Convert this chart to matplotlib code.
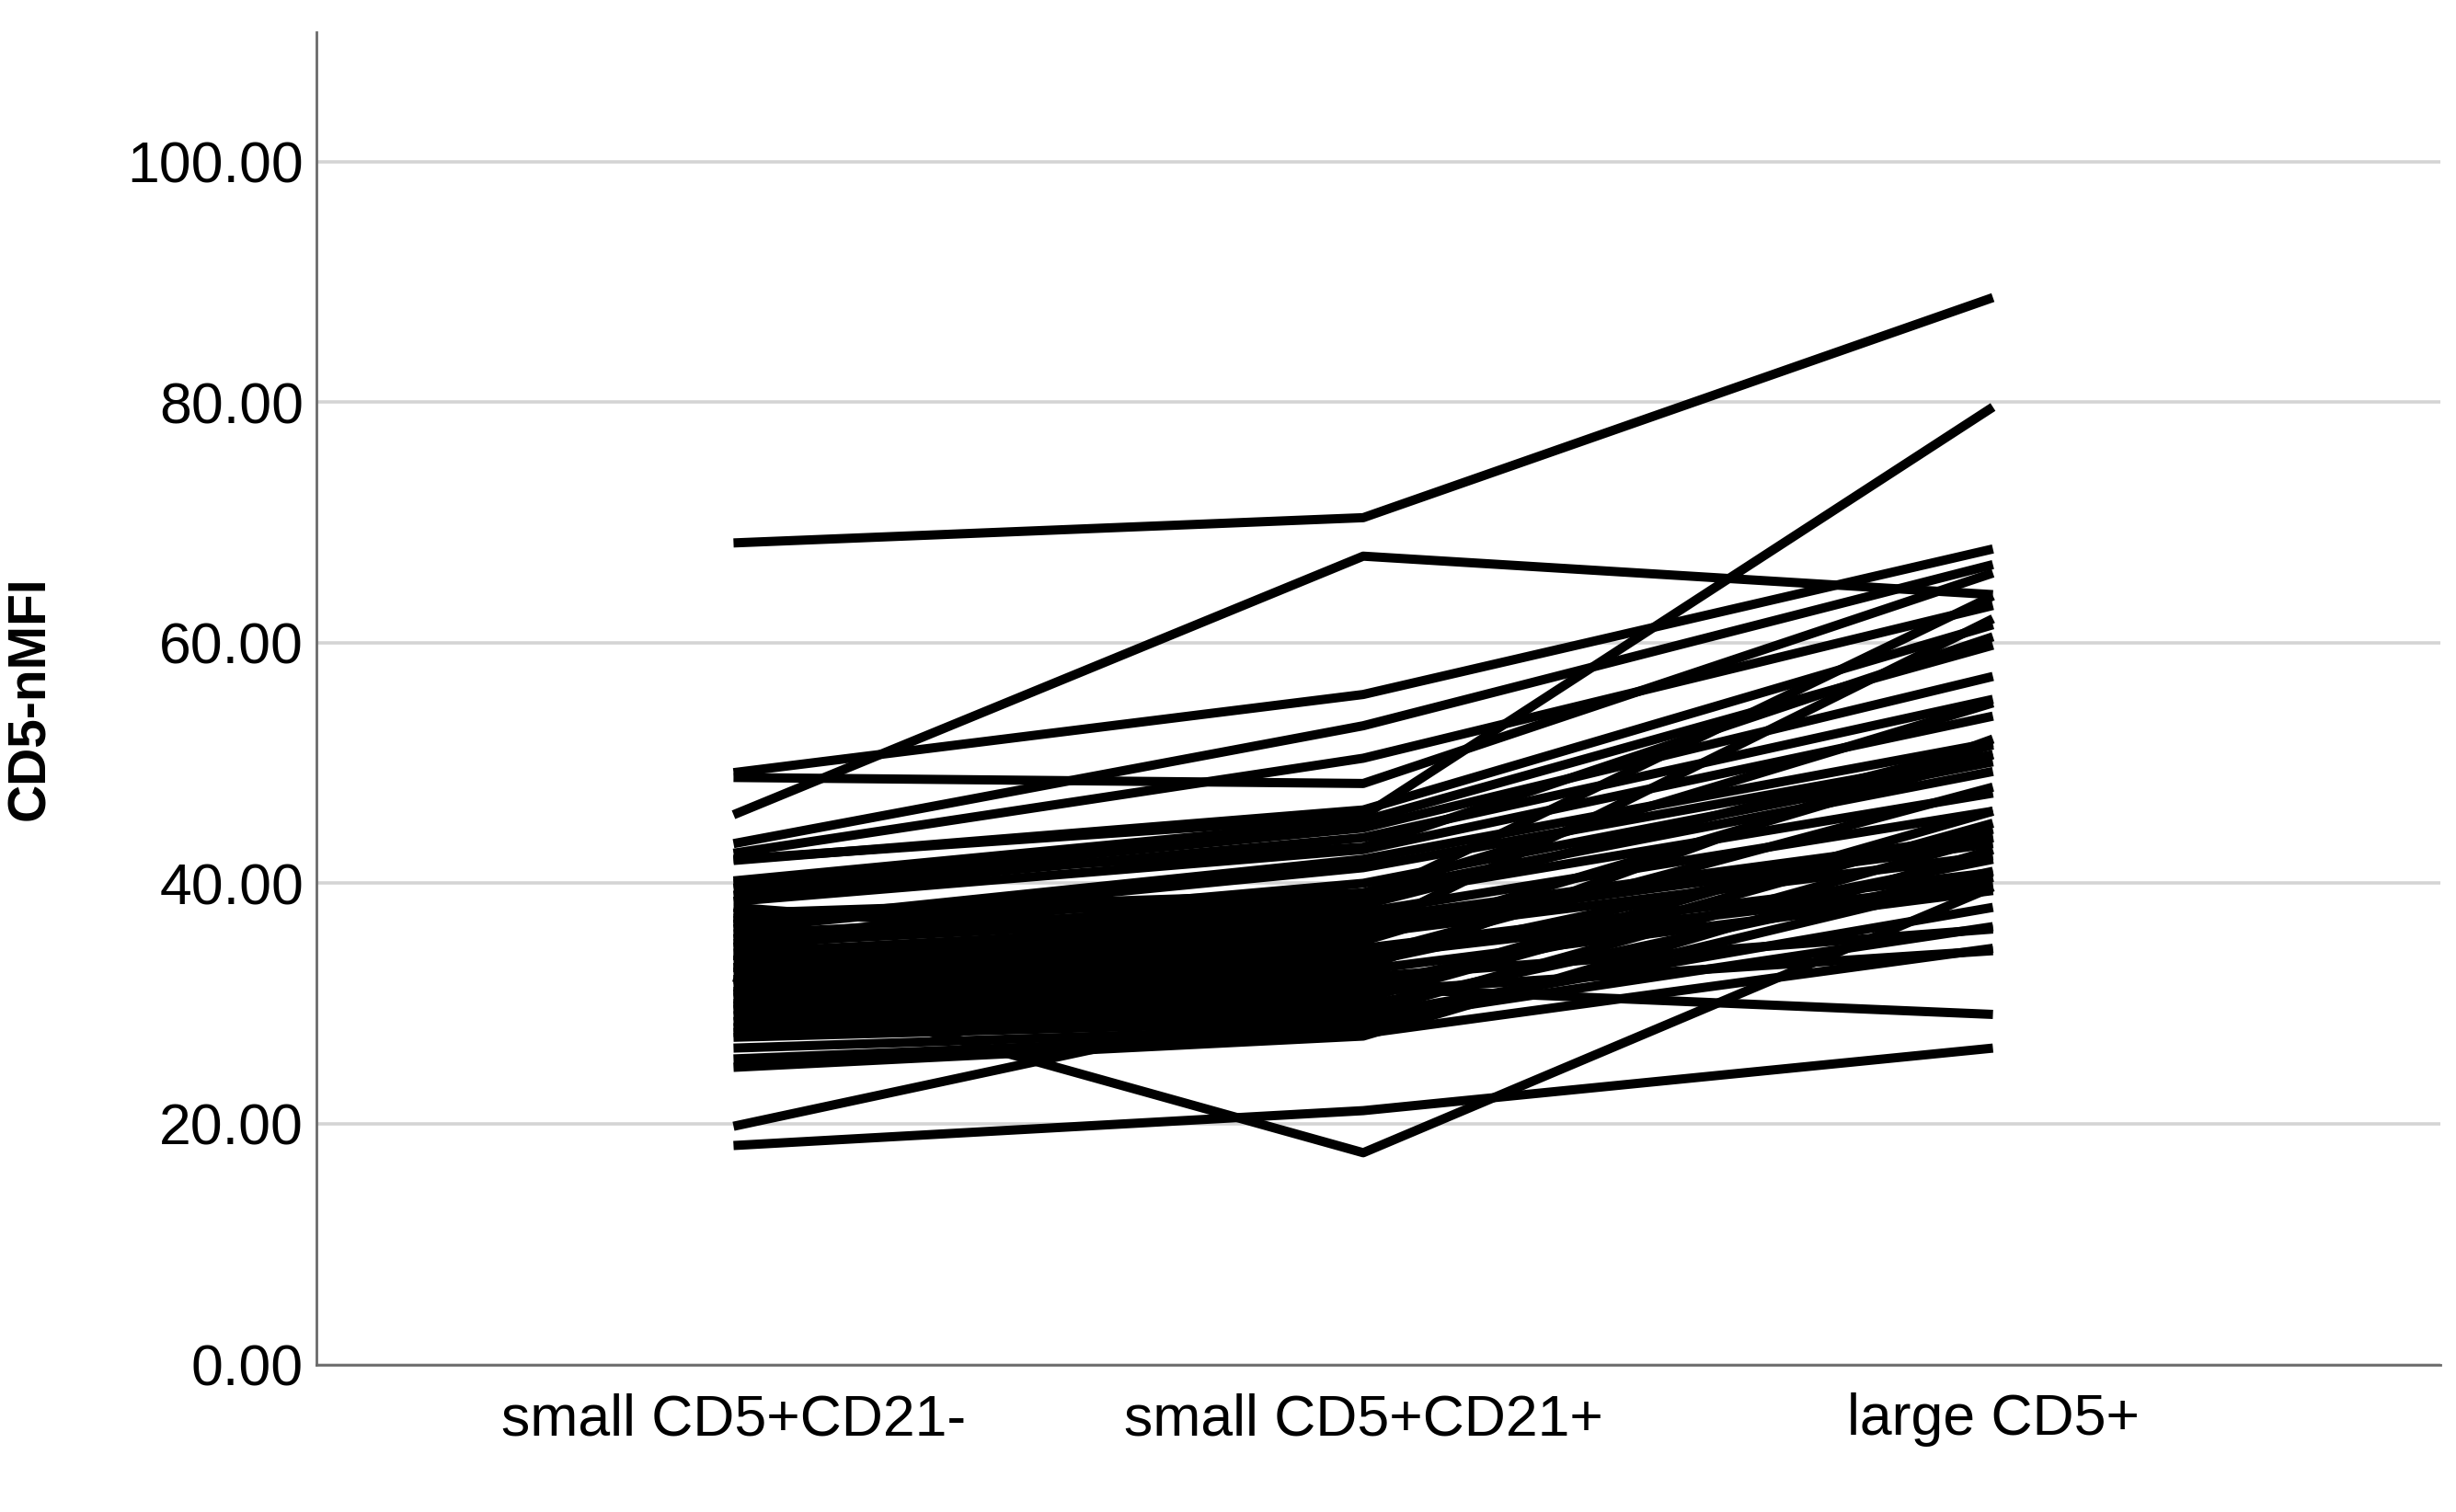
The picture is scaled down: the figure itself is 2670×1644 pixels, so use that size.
import numpy as np
import matplotlib.pyplot as plt

plt.rcParams['font.family'] = ['Liberation Sans', 'DejaVu Sans']

categories = ["small CD5+CD21-", "small CD5+CD21+", "large CD5+"]

# one value per case for each group
small_cd21_neg = [68.3, 45.7, 49.2, 48.8, 32.2, 18.2, 19.8, 42.0, 43.3, 42.5,
                  41.9, 40.2, 39.6, 39.0, 38.5, 37.1, 36.6, 36.2, 35.4, 34.7,
                  36.9, 35.8, 35.0, 34.2, 33.6, 33.0, 32.6, 32.0, 31.5, 31.0,
                  30.5, 30.0, 29.5, 29.0, 28.5, 28.0, 27.6, 27.2, 26.3, 25.4,
                  24.7, 33.0, 37.5, 38.0, 34.0, 40.0, 30.8, 29.8]
small_cd21_pos = [70.4, 67.2, 55.7, 48.3, 17.6, 21.1, 31.0, 45.6, 53.1, 50.4,
                  46.1, 45.2, 44.6, 43.8, 42.8, 38.6, 42.0, 41.3, 40.0, 39.2,
                  38.8, 38.2, 37.6, 37.0, 36.4, 35.8, 35.2, 34.6, 34.0, 33.4,
                  32.8, 32.2, 31.6, 31.0, 30.4, 29.8, 29.2, 28.6, 28.0, 27.5,
                  27.3, 31.3, 39.2, 34.0, 29.0, 43.0, 36.0, 33.0]
large_cd5 = [88.7, 64.0, 67.8, 65.8, 39.7, 26.3, 46.0, 79.6, 66.5, 63.1,
             61.5, 59.8, 57.2, 55.3, 53.9, 63.9, 51.7, 50.7, 50.1, 49.3,
             47.5, 51.5, 46.0, 44.0, 43.3, 42.3, 50.7, 40.9, 40.0, 44.5,
             39.4, 36.2, 42.0, 34.4, 45.0, 41.0, 43.8, 36.4, 40.5, 34.6,
             42.8, 29.1, 55.0, 48.0, 38.0, 60.5, 62.0, 52.0]

y_ticks = [0, 20, 40, 60, 80, 100]

fig = plt.figure(figsize=(13.35, 8.22), dpi=200)
ax = fig.add_axes([0.1288, 0.0976, 0.8647, 0.8814])

x = np.arange(1, len(categories) + 1)
for a, b, c in zip(small_cd21_neg, small_cd21_pos, large_cd5):
    ax.plot(x, [a, b, c], color='black', linewidth=3.6,
            solid_capstyle='butt', solid_joinstyle='round', zorder=3)

ax.set_xlim(0.3375, 3.71)
ax.set_ylim(0, 110.8)
ax.set_xticks(x)
ax.set_xticklabels(categories)
ax.set_yticks(y_ticks)
ax.set_yticklabels([f"{v:.2f}" for v in y_ticks])
ax.tick_params(axis='both', length=0, labelsize=22.5, colors='black')
ax.tick_params(axis='y', pad=5)
ax.tick_params(axis='x', pad=11)

ax.yaxis.grid(True, color='#d4d4d4', linewidth=1.3, zorder=0)
ax.set_axisbelow(True)

for side in ['top', 'right']:
    ax.spines[side].set_visible(False)
for side in ['left', 'bottom']:
    ax.spines[side].set_color('#6a6a6a')
    ax.spines[side].set_linewidth(1.0)

ax.set_ylabel("CD5-nMFI", fontsize=20.5, fontweight='bold')
ax.yaxis.set_label_coords(-0.123, 0.5)

fig.savefig("out.png", dpi=200)
